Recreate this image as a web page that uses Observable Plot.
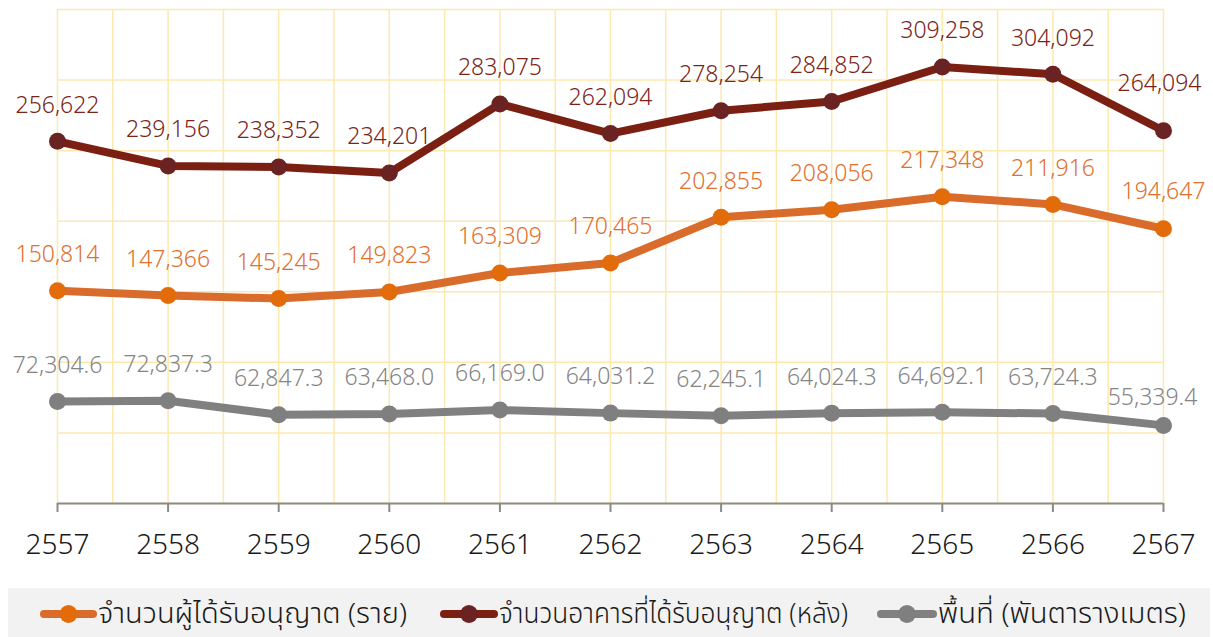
<!DOCTYPE html>
<html>
<head>
<meta charset="utf-8">
<script src="https://cdn.jsdelivr.net/npm/d3@7"></script>
<script src="https://cdn.jsdelivr.net/npm/@observablehq/plot@0.6"></script>
<style>
  html, body { margin: 0; padding: 0; background: #fff; }
  #chart svg { display: block; }
  #legend { display: block; }
</style>
</head>
<body>
<div id="chart"></div>
<svg id="legend" width="1213" height="52"></svg>
<script>
const years = [2557, 2558, 2559, 2560, 2561, 2562, 2563, 2564, 2565, 2566, 2567];
const permitHolders = [150814, 147366, 145245, 149823, 163309, 170465, 202855, 208056, 217348, 211916, 194647];
const buildings = [256622, 239156, 238352, 234201, 283075, 262094, 278254, 284852, 309258, 304092, 264094];
const areaThousandSqm = [72304.6, 72837.3, 62847.3, 63468.0, 66169.0, 64031.2, 62245.1, 64024.3, 64692.1, 63724.3, 55339.4];
const seriesNames = ["จำนวนผู้ได้รับอนุญาต (ราย)", "จำนวนอาคารที่ได้รับอนุญาต (หลัง)", "พื้นที่ (พันตารางเมตร)"];
const yTicks = [0, 50000, 100000, 150000, 200000, 250000, 300000, 350000];

const fmtInt = d3.format(",");
const fmtDec = d3.format(",.1f");

const mk = (vals) => years.map((y, i) => ({year: y, value: vals[i], i}));
const dOrange = mk(permitHolders);
const dBrown = mk(buildings);
const dGray = mk(areaThousandSqm);

const halfYears = d3.range(years[0], years[years.length - 1] + 0.01, 0.5);
const last = years.length - 1;

const colors = {
  orange: {line: "#D96B2B", dot: "#E36C0A", text: "#E0702E"},
  brown: {line: "#7B1F12", dot: "#6B2222", text: "#7A2418"},
  gray: {line: "#808080", dot: "#7F7F7F", text: "#858585"}
};

function seriesMarks(data, c, fmt, lastDy) {
  return [
    Plot.line(data, {x: "year", y: "value", stroke: c.line, strokeWidth: 8, strokeLinejoin: "round"}),
    Plot.dot(data, {x: "year", y: "value", r: 8.5, fill: c.dot, stroke: "none"}),
    Plot.text(data.filter(d => d.i !== last), {x: "year", y: "value", text: d => fmt(d.value), dy: -36, fill: c.text, fontSize: 23, fontWeight: 300}),
    Plot.text(data.filter(d => d.i === last), {x: "year", y: "value", text: d => fmt(d.value), dy: lastDy.dy, dx: lastDy.dx, fill: c.text, fontSize: 23, fontWeight: 300})
  ];
}

const chart = Plot.plot({
  width: 1213,
  height: 585,
  marginTop: 9,
  marginBottom: 82,
  marginLeft: 57,
  marginRight: 50,
  style: {fontFamily: "'Noto Sans', 'Noto Sans Thai', sans-serif", background: "#fff", overflow: "visible"},
  x: {domain: [years[0], years[last]], type: "linear"},
  y: {domain: [yTicks[0], yTicks[yTicks.length - 1]], axis: null},
  marks: [
    Plot.ruleX(halfYears, {stroke: "#FCE9B0", strokeWidth: 1.5}),
    Plot.ruleY(yTicks, {stroke: "#FCE9B0", strokeWidth: 1.5}),
    Plot.ruleY([0], {stroke: "#8A8A8A", strokeWidth: 2}),
    Plot.axisX({ticks: years, tickFormat: d => String(d), tickSize: 9, tickPadding: 22, fontSize: 28, fontWeight: 300, stroke: "#8A8A8A", strokeWidth: 2, fill: "#1a1a1a", strokeOpacity: 1, label: null}),
    ...seriesMarks(dGray, colors.gray, fmtDec, {dy: -28, dx: -11}),
    ...seriesMarks(dOrange, colors.orange, fmtInt, {dy: -37, dx: 0}),
    ...seriesMarks(dBrown, colors.brown, fmtInt, {dy: -47, dx: -4})
  ]
});
document.getElementById("chart").appendChild(chart);

// Legend (below the chart SVG)
const legend = d3.select("#legend");
legend.append("rect").attr("x", 8).attr("y", 3).attr("width", 1202).attr("height", 49).attr("fill", "#F2F2F2");
const items = [
  {name: seriesNames[0], c: colors.orange, x0: 40, x1: 97, tx: 98, tw: 309},
  {name: seriesNames[1], c: colors.brown, x0: 440, x1: 498, tx: 499, tw: 349},
  {name: seriesNames[2], c: colors.gray, x0: 877, x1: 937, tx: 938, tw: 248}
];
const cy = 29;
for (const it of items) {
  legend.append("line").attr("x1", it.x0 + 4).attr("x2", it.x1 - 4).attr("y1", cy).attr("y2", cy)
    .attr("stroke", it.c.line).attr("stroke-width", 8).attr("stroke-linecap", "round");
  legend.append("circle").attr("cx", (it.x0 + it.x1) / 2).attr("cy", cy).attr("r", 9).attr("fill", it.c.dot);
  legend.append("text").attr("x", it.tx).attr("y", 38)
    .attr("font-family", "'Noto Sans Thai', 'Noto Sans', sans-serif").attr("font-size", 28).attr("font-weight", 300).attr("fill", "#1a1a1a")
    .attr("textLength", it.tw).attr("lengthAdjust", "spacingAndGlyphs")
    .text(it.name);
}
</script>
</body>
</html>
